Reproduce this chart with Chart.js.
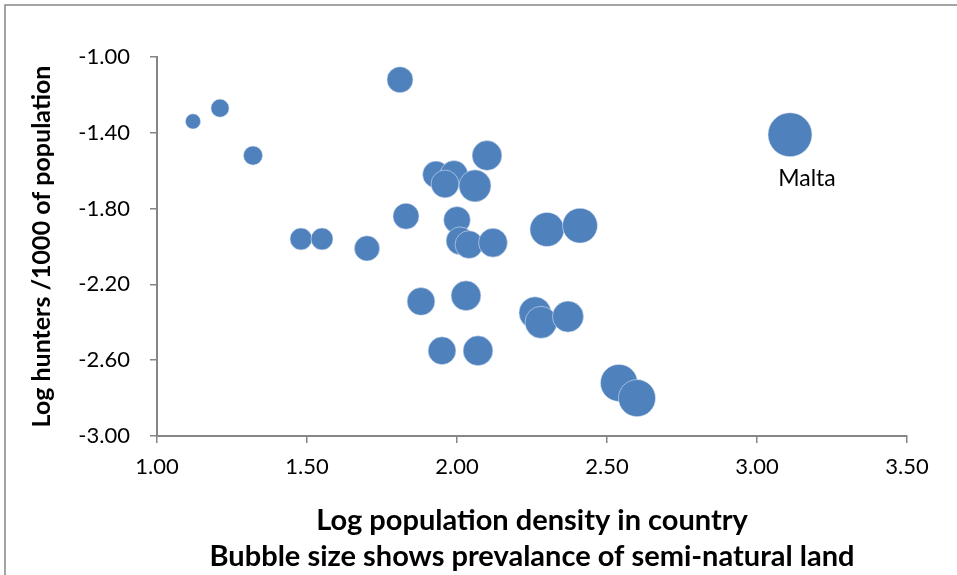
<!DOCTYPE html>
<html>
<head>
<meta charset="utf-8">
<script src="https://cdn.jsdelivr.net/npm/chart.js@4/dist/chart.umd.min.js"></script>
<style>
  html, body { margin: 0; padding: 0; background: #ffffff; }
  #wrap { width: 957px; height: 575px; position: relative; }
</style>
</head>
<body>
<div id="wrap"><canvas id="chart" width="957" height="575"></canvas></div>
<script>
// Log population density per country
const logDensity = [1.12, 1.21, 1.32, 1.81, 1.48, 1.55, 1.70, 1.83, 2.10, 1.93,
                    1.99, 1.96, 2.06, 2.00, 2.01, 2.04, 2.12, 2.30, 2.41, 1.88,
                    2.03, 1.95, 2.07, 2.26, 2.28, 2.37, 2.54, 2.60, 3.11];
// Log hunters per 1000 of population
const logHunters = [-1.34, -1.27, -1.52, -1.12, -1.96, -1.96, -2.01, -1.84, -1.52, -1.62,
                    -1.62, -1.67, -1.68, -1.86, -1.97, -1.99, -1.98, -1.91, -1.89, -2.29,
                    -2.26, -2.55, -2.55, -2.35, -2.40, -2.37, -2.72, -2.80, -1.41];
// Prevalence of semi-natural land (bubble size, area-proportional)
const semiNaturalLand = [12, 17, 19, 35, 25, 25, 33, 35, 46, 37,
                         40, 40, 53, 37, 40, 40, 43, 60, 63, 40,
                         46, 40, 46, 53, 53, 50, 71, 71, 100];
// Point labels (only Malta is named)
const pointNames = ['', '', '', '', '', '', '', '', '', '',
                    '', '', '', '', '', '', '', '', '', '',
                    '', '', '', '', '', '', '', '', 'Malta'];
const xTickValues = [1.00, 1.50, 2.00, 2.50, 3.00, 3.50];
const yTickValues = [-3.00, -2.60, -2.20, -1.80, -1.40, -1.00];

const AXIS_GREY = '#868686';
const BLUE = '#4F81BD';
const FONT = 'Lato, "Open Sans", sans-serif';

// Excel-style bubbles: area proportional to size value
const bubbleRadius = v => 2.2 * Math.sqrt(v);

const points = logDensity.map((x, i) => ({
  x: x,
  y: logHunters[i],
  r: bubbleRadius(semiNaturalLand[i])
}));

// Grey outer frame of the chart object
const framePlugin = {
  id: 'frame',
  beforeDraw(chart) {
    const ctx = chart.ctx;
    ctx.save();
    ctx.strokeStyle = AXIS_GREY;
    ctx.lineWidth = 1.5;
    ctx.beginPath();
    ctx.moveTo(5, chart.height + 5);
    ctx.lineTo(5, 5);
    ctx.lineTo(chart.width + 5, 5);
    ctx.stroke();
    ctx.restore();
  }
};

// Name label under a bubble
const pointLabelPlugin = {
  id: 'pointLabels',
  afterDatasetsDraw(chart) {
    const ctx = chart.ctx;
    const meta = chart.getDatasetMeta(0);
    ctx.save();
    ctx.font = '23px ' + FONT;
    ctx.fillStyle = '#000000';
    ctx.textAlign = 'center';
    ctx.textBaseline = 'middle';
    pointNames.forEach((name, i) => {
      if (!name) return;
      const el = meta.data[i];
      ctx.fillText(name, el.x + 17, el.y + 44);
    });
    ctx.restore();
  }
};

new Chart(document.getElementById('chart'), {
  type: 'bubble',
  data: {
    datasets: [{
      label: 'Countries',
      data: points,
      backgroundColor: BLUE,
      borderColor: 'rgba(225,233,244,0.55)',
      borderWidth: 1,
      hoverBorderWidth: 1
    }]
  },
  options: {
    responsive: false,
    animation: false,
    events: [],
    layout: { padding: { top: 57, right: 50, bottom: 0, left: 0 } },
    plugins: {
      legend: { display: false },
      tooltip: { enabled: false }
    },
    scales: {
      x: {
        type: 'linear',
        min: 1,
        max: 3.5,
        afterBuildTicks: s => { s.ticks = xTickValues.map(v => ({ value: v })); },
        afterFit: s => { s.height = 139; },
        grid: { display: true, drawOnChartArea: false, drawTicks: true, tickLength: 7, color: AXIS_GREY, lineWidth: 1.5 },
        border: { display: true, color: AXIS_GREY, width: 2 },
        ticks: {
          color: '#000000',
          font: { family: FONT, size: 22 },
          padding: 11,
          maxRotation: 0,
          callback: v => Number(v).toFixed(2)
        },
        title: {
          display: true,
          text: ['Log population density in country', 'Bubble size shows prevalance of semi-natural land'],
          color: '#000000',
          font: { family: FONT, size: 29, weight: 'bold', lineHeight: '36px' },
          padding: { top: 0, bottom: 0 }
        }
      },
      y: {
        type: 'linear',
        min: -3,
        max: -1,
        afterBuildTicks: s => { s.ticks = yTickValues.map(v => ({ value: v })); },
        afterFit: s => { s.width = 157; },
        grid: { display: true, drawOnChartArea: false, drawTicks: true, tickLength: 7, color: AXIS_GREY, lineWidth: 1.5 },
        border: { display: true, color: AXIS_GREY, width: 2 },
        ticks: {
          color: '#000000',
          font: { family: FONT, size: 22 },
          padding: 20,
          callback: v => Number(v).toFixed(2)
        },
        title: {
          display: true,
          text: 'Log hunters /1000 of population',
          color: '#000000',
          font: { family: FONT, size: 25, weight: 'bold', lineHeight: 1.2 },
          padding: { top: 27, bottom: 0 }
        }
      }
    }
  },
  plugins: [framePlugin, pointLabelPlugin]
});
</script>
</body>
</html>
